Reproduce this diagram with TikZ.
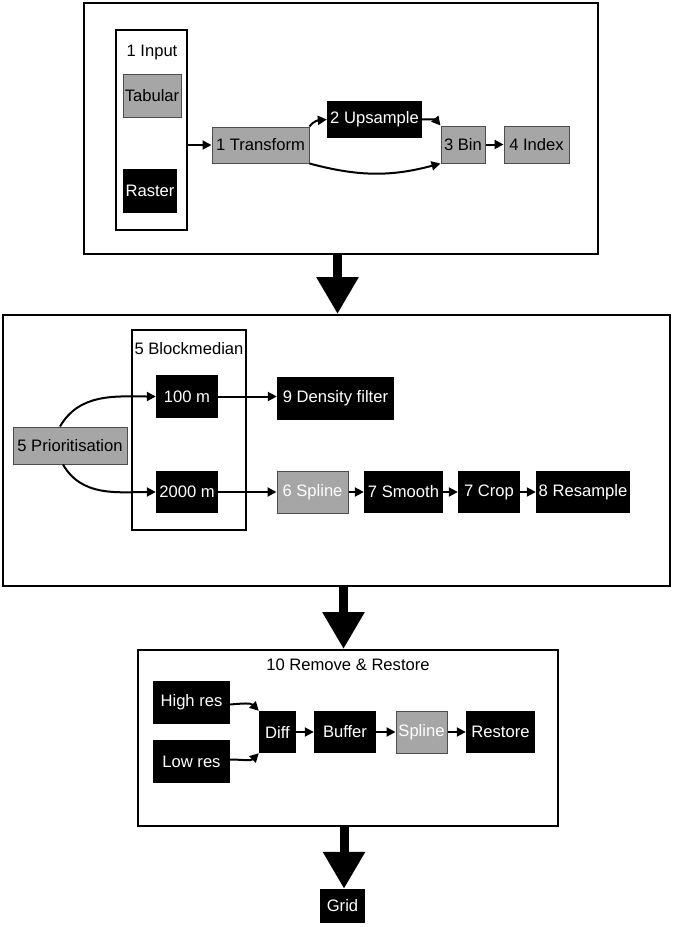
\documentclass[tikz,border=0pt]{standalone}
\usepackage{fontspec}
\setmainfont{Liberation Sans}
\usetikzlibrary{arrows.meta}
\definecolor{boxgray}{HTML}{A6A6A6}
\tikzset{
>={Triangle[length=9pt,width=9pt]},
  frame/.style={
    rectangle,
    draw=black, line width=2pt,
    inner sep=0pt},
  blkbox/.style={
    rectangle,
    fill=black,
    text=white,
    inner sep=0pt},
  grybox/.style={
    rectangle,
    fill=boxgray,
    draw=black!70, line width=1pt,
    inner sep=0pt},
  sz/.style 2 args={minimum width=#1pt, minimum height=#2pt},
  line/.style={draw, line width=2pt, ->},
  bigarrow/.style={draw, line width=9pt, -{Triangle[length=37pt,width=40pt]}},
}

\begin{document}
\begin{tikzpicture}[x=1pt, y=-1pt, font=\fontsize{16.6}{19}\selectfont]
\useasboundingbox (0,0) rectangle (675,927);
% frames
\node[frame, sz={514}{251}] (stage1) at (341,128.5) {};
\node[frame, sz={71}{200}] (input) at (151.5,130) {};
\node[frame, sz={667}{271}] (stage2) at (336.5,450.5) {};
\node[frame, sz={114}{200}] (blockmed) at (189,430) {};
\node[frame, sz={420}{176}] (stage3) at (348,738) {};
\node (inputlbl) at (152,53) {1 Input};
\node (blocklbl) at (189,349) {5 Blockmedian};
\node (restlbl) at (348,665) {10 Remove \& Restore};
% stage 1
\node[grybox, sz={58}{43}] (tab) at (152,95.5) {Tabular};
\node[blkbox, sz={54}{44}] (ras) at (150,191) {Raster};
\node[grybox, sz={97}{36}] (trans) at (260.5,145) {1 Transform};
\node[blkbox, sz={95}{37}] (up) at (374.5,119.5) {2 Upsample};
\node[grybox, sz={44}{37}] (bin) at (463,144.5) {3 Bin};
\node[grybox, sz={65}{37}] (idx) at (536.5,144.5) {4 Index};
\draw[line] (input.east |- trans.west) -- (trans.west);
\draw[line] (trans.north east) to[out=55,in=185] (up.west);
\draw[line] (up.east) to[out=5,in=130] (bin.north west);
\draw[line] (trans.south east) to[out=-15,in=195] (bin.south west);
\draw[line] (bin) -- (idx);
% stage 2
\node[grybox, sz={114}{37}] (prio) at (70,445.5) {5 Prioritisation};
\node[blkbox, sz={62}{43}] (m100) at (187,396.5) {100 m};
\node[blkbox, sz={62}{42}] (m2000) at (187,492) {2000 m};
\node[blkbox, sz={117}{43}] (dens) at (335.5,398.5) {9 Density filter};
\node[grybox, text=white, sz={71}{42}] (spl) at (312.5,492) {6 Spline};
\node[blkbox, sz={79}{42}] (smo) at (403.5,492) {7 Smooth};
\node[blkbox, sz={62}{42}] (crop) at (489,492) {7 Crop};
\node[blkbox, sz={94}{42}] (res) at (583,492) {8 Resample};
\draw[line] ([xshift=-10pt]prio.north) to[out=60,in=180] (m100.west);
\draw[line] ([xshift=-7pt]prio.south) to[out=-60,in=180] (m2000.west);
\draw[line] (m100.east) -- (m100.east -| dens.west);
\foreach \a/\b in {m2000/spl, spl/smo, smo/crop, crop/res}
  \draw[line] (\a) -- (\b);
% stage 3
\node[blkbox, sz={77}{43}] (high) at (191.5,702.5) {High res};
\node[blkbox, sz={77}{43}] (low) at (191.5,761.5) {Low res};
\node[blkbox, sz={37}{42}] (diff) at (277.5,732) {Diff};
\node[blkbox, sz={62}{42}] (buf) at (345,732) {Buffer};
\node[grybox, text=white, sz={51}{42}] (spl2) at (421.5,732) {Spline};
\node[blkbox, sz={69}{42}] (rest) at (500.5,732) {Restore};
\node[blkbox, sz={45}{34}] (grid) at (342.5,906) {Grid};
\draw[line] ([yshift=-2pt]high.east) to[out=5,in=135] (diff.north west);
\draw[line] ([yshift=2pt]low.east) to[out=0,in=225] (diff.south west);
\foreach \a/\b in {diff/buf, buf/spl2, spl2/rest}
  \draw[line] (\a) -- (\b);
% big arrows between stages
\draw[bigarrow] ([xshift=-3.5pt]stage1.south) -- ([xshift=-3.5pt]stage1.south |- stage2.north);
\draw[bigarrow] ([xshift=7pt]stage2.south) -- ([xshift=7pt]stage2.south |- stage3.north);
\draw[bigarrow] ([xshift=-4pt]stage3.south) -- ([xshift=-4pt]stage3.south |- grid.north);
\end{tikzpicture}
\end{document}
